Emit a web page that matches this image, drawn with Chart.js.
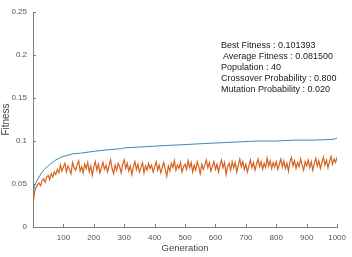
<!DOCTYPE html>
<html lang="en">
  <head>
    <meta charset="UTF-8" />
    <title>GA Fitness</title>
    <script src="https://cdn.jsdelivr.net/npm/chart.js"></script>
    <style>
      body {
        margin: 0;
        background: #ffffff;
      }
      .wrap {
        position: relative;
        width: 352px;
        height: 257px;
      }
      .stats {
        position: absolute;
        left: 221px;
        top: 40px;
        font-family: "Liberation Sans", Arial, sans-serif;
        font-size: 9px;
        line-height: 11px;
        color: #1a1a1a;
        white-space: pre;
      }
    </style>
  </head>
  <body>
    <div class="wrap">
      <canvas id="fitChart" width="352" height="257"></canvas>
      <div class="stats">Best Fitness : 0.101393
 Average Fitness : 0.081500
Population : 40
Crossover Probability : 0.800
Mutation Probability : 0.020</div>
    </div>

    <script>
      // best fitness at a few generations
      const bestGen = [1, 5, 10, 20, 30, 40, 50, 60, 75, 90, 110, 130, 160, 200, 250, 290, 300, 350, 400,
        450, 510, 560, 620, 680, 740, 800, 860, 920, 960, 990, 1000];
      const bestFit = [0.040, 0.048, 0.052, 0.058, 0.064, 0.068, 0.071, 0.074, 0.078, 0.081, 0.083, 0.085,
        0.086, 0.088, 0.090, 0.091, 0.092, 0.093, 0.094, 0.095, 0.096, 0.097, 0.098, 0.099, 0.100, 0.100,
        0.101, 0.101, 0.1015, 0.102, 0.1035];

      // average fitness, one value every 5 generations (first at gen 1)
      const avgStep = 5;
      const avgFit = [
        0.028, 0.041, 0.046, 0.049, 0.051, 0.048, 0.054, 0.056, 0.052, 0.058, 0.060, 0.055, 0.062, 0.058, 0.064, 0.061, 0.067, 0.063, 0.072, 0.065,
        0.070, 0.074, 0.064, 0.071, 0.067, 0.062, 0.075, 0.069, 0.066, 0.072, 0.077, 0.065, 0.070, 0.063, 0.073, 0.068, 0.075, 0.064, 0.071, 0.060,
        0.070, 0.076, 0.066, 0.073, 0.063, 0.069, 0.075, 0.067, 0.072, 0.064, 0.071, 0.078, 0.068, 0.062, 0.072, 0.066, 0.074, 0.070, 0.063, 0.073,
        0.078, 0.068, 0.074, 0.065, 0.071, 0.061, 0.070, 0.076, 0.067, 0.073, 0.064, 0.069, 0.075, 0.063, 0.071, 0.066, 0.074, 0.068, 0.072, 0.064,
        0.070, 0.076, 0.066, 0.072, 0.063, 0.069, 0.075, 0.067, 0.059, 0.071, 0.065, 0.074, 0.069, 0.077, 0.066, 0.072, 0.068, 0.075, 0.064, 0.070,
        0.073, 0.067, 0.077, 0.069, 0.075, 0.064, 0.072, 0.066, 0.076, 0.070, 0.062, 0.073, 0.067, 0.072, 0.078, 0.069, 0.075, 0.065, 0.071, 0.076,
        0.067, 0.073, 0.064, 0.072, 0.078, 0.069, 0.075, 0.061, 0.071, 0.074, 0.066, 0.076, 0.069, 0.075, 0.064, 0.072, 0.079, 0.070, 0.076, 0.067,
        0.073, 0.064, 0.071, 0.078, 0.069, 0.075, 0.066, 0.073, 0.079, 0.070, 0.076, 0.067, 0.074, 0.069, 0.080, 0.071, 0.077, 0.068, 0.075, 0.070,
        0.076, 0.067, 0.073, 0.079, 0.070, 0.077, 0.068, 0.074, 0.065, 0.076, 0.081, 0.071, 0.077, 0.068, 0.075, 0.070, 0.079, 0.072, 0.066, 0.076,
        0.071, 0.078, 0.069, 0.076, 0.066, 0.074, 0.080, 0.071, 0.077, 0.068, 0.075, 0.081, 0.072, 0.078, 0.069, 0.076, 0.082, 0.073, 0.079, 0.075,
        0.0815
      ];

      const xTicks = [100, 200, 300, 400, 500, 600, 700, 800, 900, 1000];
      const yTicks = [0, 0.05, 0.1, 0.15, 0.2, 0.25];

      const bestData = bestGen.map((g, i) => ({ x: g, y: bestFit[i] }));
      const avgData = avgFit.map((v, i) => ({ x: Math.max(1, i * avgStep), y: v }));

      const axisColor = "#7d7d7d";
      const tickColor = "#555555";

      // MATLAB style ticks pointing into the plot
      const inwardTicks = {
        id: "inwardTicks",
        afterDraw(chart) {
          const { ctx, chartArea } = chart;
          const xs = chart.scales.x;
          const ys = chart.scales.y;
          ctx.save();
          ctx.strokeStyle = axisColor;
          ctx.lineWidth = 1;
          ctx.beginPath();
          xTicks.forEach((v) => {
            const px = Math.round(xs.getPixelForValue(v)) + 0.5;
            ctx.moveTo(px, chartArea.bottom);
            ctx.lineTo(px, chartArea.bottom - 3);
          });
          yTicks.forEach((v) => {
            const py = Math.round(ys.getPixelForValue(v)) + 0.5;
            ctx.moveTo(chartArea.left, py);
            ctx.lineTo(chartArea.left + 3, py);
          });
          ctx.stroke();
          ctx.restore();
        },
      };

      new Chart(document.getElementById("fitChart"), {
        type: "line",
        data: {
          datasets: [
            {
              label: "Best Fitness",
              data: bestData,
              borderColor: "#3a8db0",
              borderWidth: 1,
              pointRadius: 0,
              tension: 0,
            },
            {
              label: "Average Fitness",
              data: avgData,
              borderColor: "#d5621f",
              borderWidth: 1.2,
              pointRadius: 0,
              tension: 0,
            },
          ],
        },
        options: {
          responsive: false,
          animation: false,
          layout: { padding: { top: 12, right: 11, left: 0, bottom: 0 } },
          plugins: {
            legend: { display: false },
            tooltip: { enabled: false },
          },
          scales: {
            x: {
              type: "linear",
              min: 0,
              max: 1000,
              afterFit: (s) => { s.height = 30; },
              afterBuildTicks: (s) => { s.ticks = xTicks.map((v) => ({ value: v })); },
              grid: { drawOnChartArea: false, drawTicks: false },
              border: { color: axisColor },
              ticks: {
                padding: 6,
                color: tickColor,
                maxRotation: 0,
                callback: (v) => String(v),
                font: { family: "Liberation Sans", size: 8 },
              },
              title: {
                display: true,
                text: "Generation",
                color: "#444444",
                padding: { top: 2, bottom: 3 },
                font: { family: "Liberation Sans", size: 9.5 },
              },
            },
            y: {
              min: 0,
              max: 0.25,
              afterFit: (s) => { s.width = 33; },
              afterBuildTicks: (s) => { s.ticks = yTicks.map((v) => ({ value: v })); },
              grid: { drawOnChartArea: false, drawTicks: false },
              border: { color: axisColor },
              ticks: {
                padding: 6,
                color: tickColor,
                callback: (v) => String(v),
                font: { family: "Liberation Sans", size: 8 },
              },
              title: {
                display: true,
                text: "Fitness",
                color: "#444444",
                padding: 0,
                font: { family: "Liberation Sans", size: 10 },
              },
            },
          },
        },
        plugins: [inwardTicks],
      });
    </script>
  </body>
</html>
